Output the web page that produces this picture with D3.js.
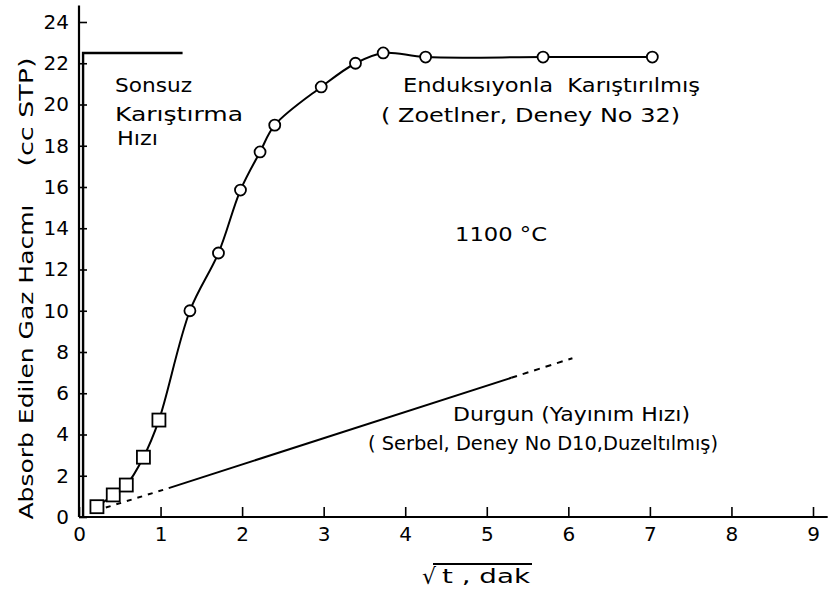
<!DOCTYPE html>
<html>
<head>
<meta charset="utf-8">
<script src="https://cdn.jsdelivr.net/npm/d3@7"></script>
<style>
  body { margin: 0; background: #fff; }
  text { font-family: "DejaVu Sans", sans-serif; fill: #000; }
</style>
</head>
<body>
<div id="chart"></div>
<script>
// ---- data ----
const xTicks = [0, 1, 2, 3, 4, 5, 6, 7, 8, 9];
const yTicks = [0, 2, 4, 6, 8, 10, 12, 14, 16, 18, 20, 22, 24];

// squares (early points)
const squareX = [0.22, 0.42, 0.58, 0.79, 0.98];
const squareY = [0.5, 1.07, 1.55, 2.9, 4.7];

// circles: Enduksiyonla karistirilmis (Zoetlner, Deney No 32)
const circleX = [1.36, 1.71, 1.98, 2.22, 2.40, 2.97, 3.39, 3.73, 4.25, 5.69, 7.03];
const circleY = [10.0, 12.8, 15.85, 17.7, 19.0, 20.85, 22.0, 22.5, 22.3, 22.3, 22.3];

// sonsuz karistirma hizi
const sonsuzX = [0.05, 0.05, 1.27];
const sonsuzY = [0, 22.5, 22.5];

// durgun (yayinim hizi) line
const durgunX = [0.2, 1.1, 5.3, 6.05];
const durgunY = [0.3, 1.4, 6.75, 7.7];

const w = 840, h = 595;

const x = d3.scaleLinear().domain([0, 9]).range([79, 813]);
const y = d3.scaleLinear().domain([0, 24]).range([517, 22]);

const svg = d3.select("#chart").append("svg")
    .attr("width", w)
    .attr("height", h);

svg.append("rect").attr("width", w).attr("height", h).attr("fill", "#fff");

// axes (ticks point inward)
const xAxis = d3.axisBottom(x).tickValues(xTicks).tickFormat(d3.format("d"))
    .tickSizeInner(-10).tickSizeOuter(0).tickPadding(10);
const gx = svg.append("g")
    .attr("transform", "translate(0," + y(0) + ")")
    .call(xAxis);
gx.select(".domain").remove();
gx.selectAll("line").attr("stroke", "#000").attr("stroke-width", 1.6);
gx.selectAll("text").attr("font-size", 20).attr("font-family", "DejaVu Sans");

const yAxis = d3.axisLeft(y).tickValues(yTicks)
    .tickSizeInner(-8).tickSizeOuter(0).tickPadding(10);
const gy = svg.append("g")
    .attr("transform", "translate(" + x(0) + ",0)")
    .call(yAxis);
gy.select(".domain").remove();
gy.selectAll("line").attr("stroke", "#000").attr("stroke-width", 1.6);
gy.selectAll("text").attr("font-size", 20).attr("font-family", "DejaVu Sans");

// axis lines, a bit past the last tick like the drawing
svg.append("line")
    .attr("x1", x(0)).attr("x2", x(9.18))
    .attr("y1", y(0)).attr("y2", y(0))
    .attr("stroke", "#000").attr("stroke-width", 2.2);
svg.append("line")
    .attr("x1", x(0)).attr("x2", x(0))
    .attr("y1", y(0)).attr("y2", y(24.8))
    .attr("stroke", "#000").attr("stroke-width", 2.2);

const line = d3.line().x(d => x(d[0])).y(d => y(d[1]));

// sonsuz karistirma
svg.append("path")
    .datum(sonsuzX.map((v, i) => [v, sonsuzY[i]]))
    .attr("d", line)
    .attr("fill", "none").attr("stroke", "#000").attr("stroke-width", 2.4);

// durgun line: dashed - solid - dashed
const durgun = durgunX.map((v, i) => [v, durgunY[i]]);
[[0, 1, "5,6"], [1, 2, null], [2, 3, "6,6"]].forEach(s => {
  svg.append("path")
    .datum(durgun.slice(s[0], s[1] + 1))
    .attr("d", line)
    .attr("fill", "none").attr("stroke", "#000").attr("stroke-width", 2)
    .attr("stroke-dasharray", s[2]);
});

// induction curve through all points
const pts = squareX.map((v, i) => [v, squareY[i]])
    .concat(circleX.map((v, i) => [v, circleY[i]]));
svg.append("path")
    .datum(pts)
    .attr("d", d3.line().x(d => x(d[0])).y(d => y(d[1])).curve(d3.curveCatmullRom.alpha(0.5)))
    .attr("fill", "none").attr("stroke", "#000").attr("stroke-width", 2);

// markers
svg.selectAll("rect.sq")
    .data(squareX.map((v, i) => [v, squareY[i]]))
    .enter().append("rect")
    .attr("class", "sq")
    .attr("x", d => x(d[0]) - 6.5)
    .attr("y", d => y(d[1]) - 6.5)
    .attr("width", 13).attr("height", 13)
    .attr("fill", "#fff").attr("stroke", "#000").attr("stroke-width", 1.8);

svg.selectAll("circle.pt")
    .data(circleX.map((v, i) => [v, circleY[i]]))
    .enter().append("circle")
    .attr("class", "pt")
    .attr("cx", d => x(d[0]))
    .attr("cy", d => y(d[1]))
    .attr("r", 5.5)
    .attr("fill", "#fff").attr("stroke", "#000").attr("stroke-width", 1.8);

// labels
function label(txt, px, py, len) {
  const t = svg.append("text")
      .attr("x", px).attr("y", py)
      .attr("font-size", 20)
      .text(txt);
  if (len) t.attr("textLength", len).attr("lengthAdjust", "spacingAndGlyphs");
  return t;
}

label("Sonsuz", 115, 92, 77);
label("Karıştırma", 115, 121, 128);
label("Hızı", 117, 145, 41);

label("Enduksıyonla  Karıştırılmış", 403, 92, 297).style("white-space", "pre");
label("( Zoetlner, Deney No 32)", 381, 122, 299);
label("1100 °C", 455, 241, 92);
label("Durgun (Yayınım Hızı)", 453, 421, 237);
label("( Serbel, Deney No D10,Duzeltılmış)", 368, 450, 350);

// y axis title
svg.append("text")
    .attr("transform", "translate(33,362) rotate(-90)")
    .attr("text-anchor", "middle")
    .attr("font-size", 20)
    .attr("textLength", 315).attr("lengthAdjust", "spacingAndGlyphs")
    .text("Absorb Edilen Gaz Hacmı");
svg.append("text")
    .attr("transform", "translate(33,112) rotate(-90)")
    .attr("text-anchor", "middle")
    .attr("font-size", 20)
    .attr("textLength", 109).attr("lengthAdjust", "spacingAndGlyphs")
    .text("(cc STP)");

// x axis title: sqrt t, dak
svg.append("text")
    .attr("x", 422).attr("y", 584)
    .attr("font-size", 22)
    .text("√");
svg.append("text")
    .attr("x", 442).attr("y", 583)
    .attr("font-size", 20)
    .attr("textLength", 88).attr("lengthAdjust", "spacingAndGlyphs")
    .text("t , dak");
svg.append("line")
    .attr("x1", 433).attr("x2", 532)
    .attr("y1", 564).attr("y2", 564)
    .attr("stroke", "#000").attr("stroke-width", 1.8);
</script>
</body>
</html>
